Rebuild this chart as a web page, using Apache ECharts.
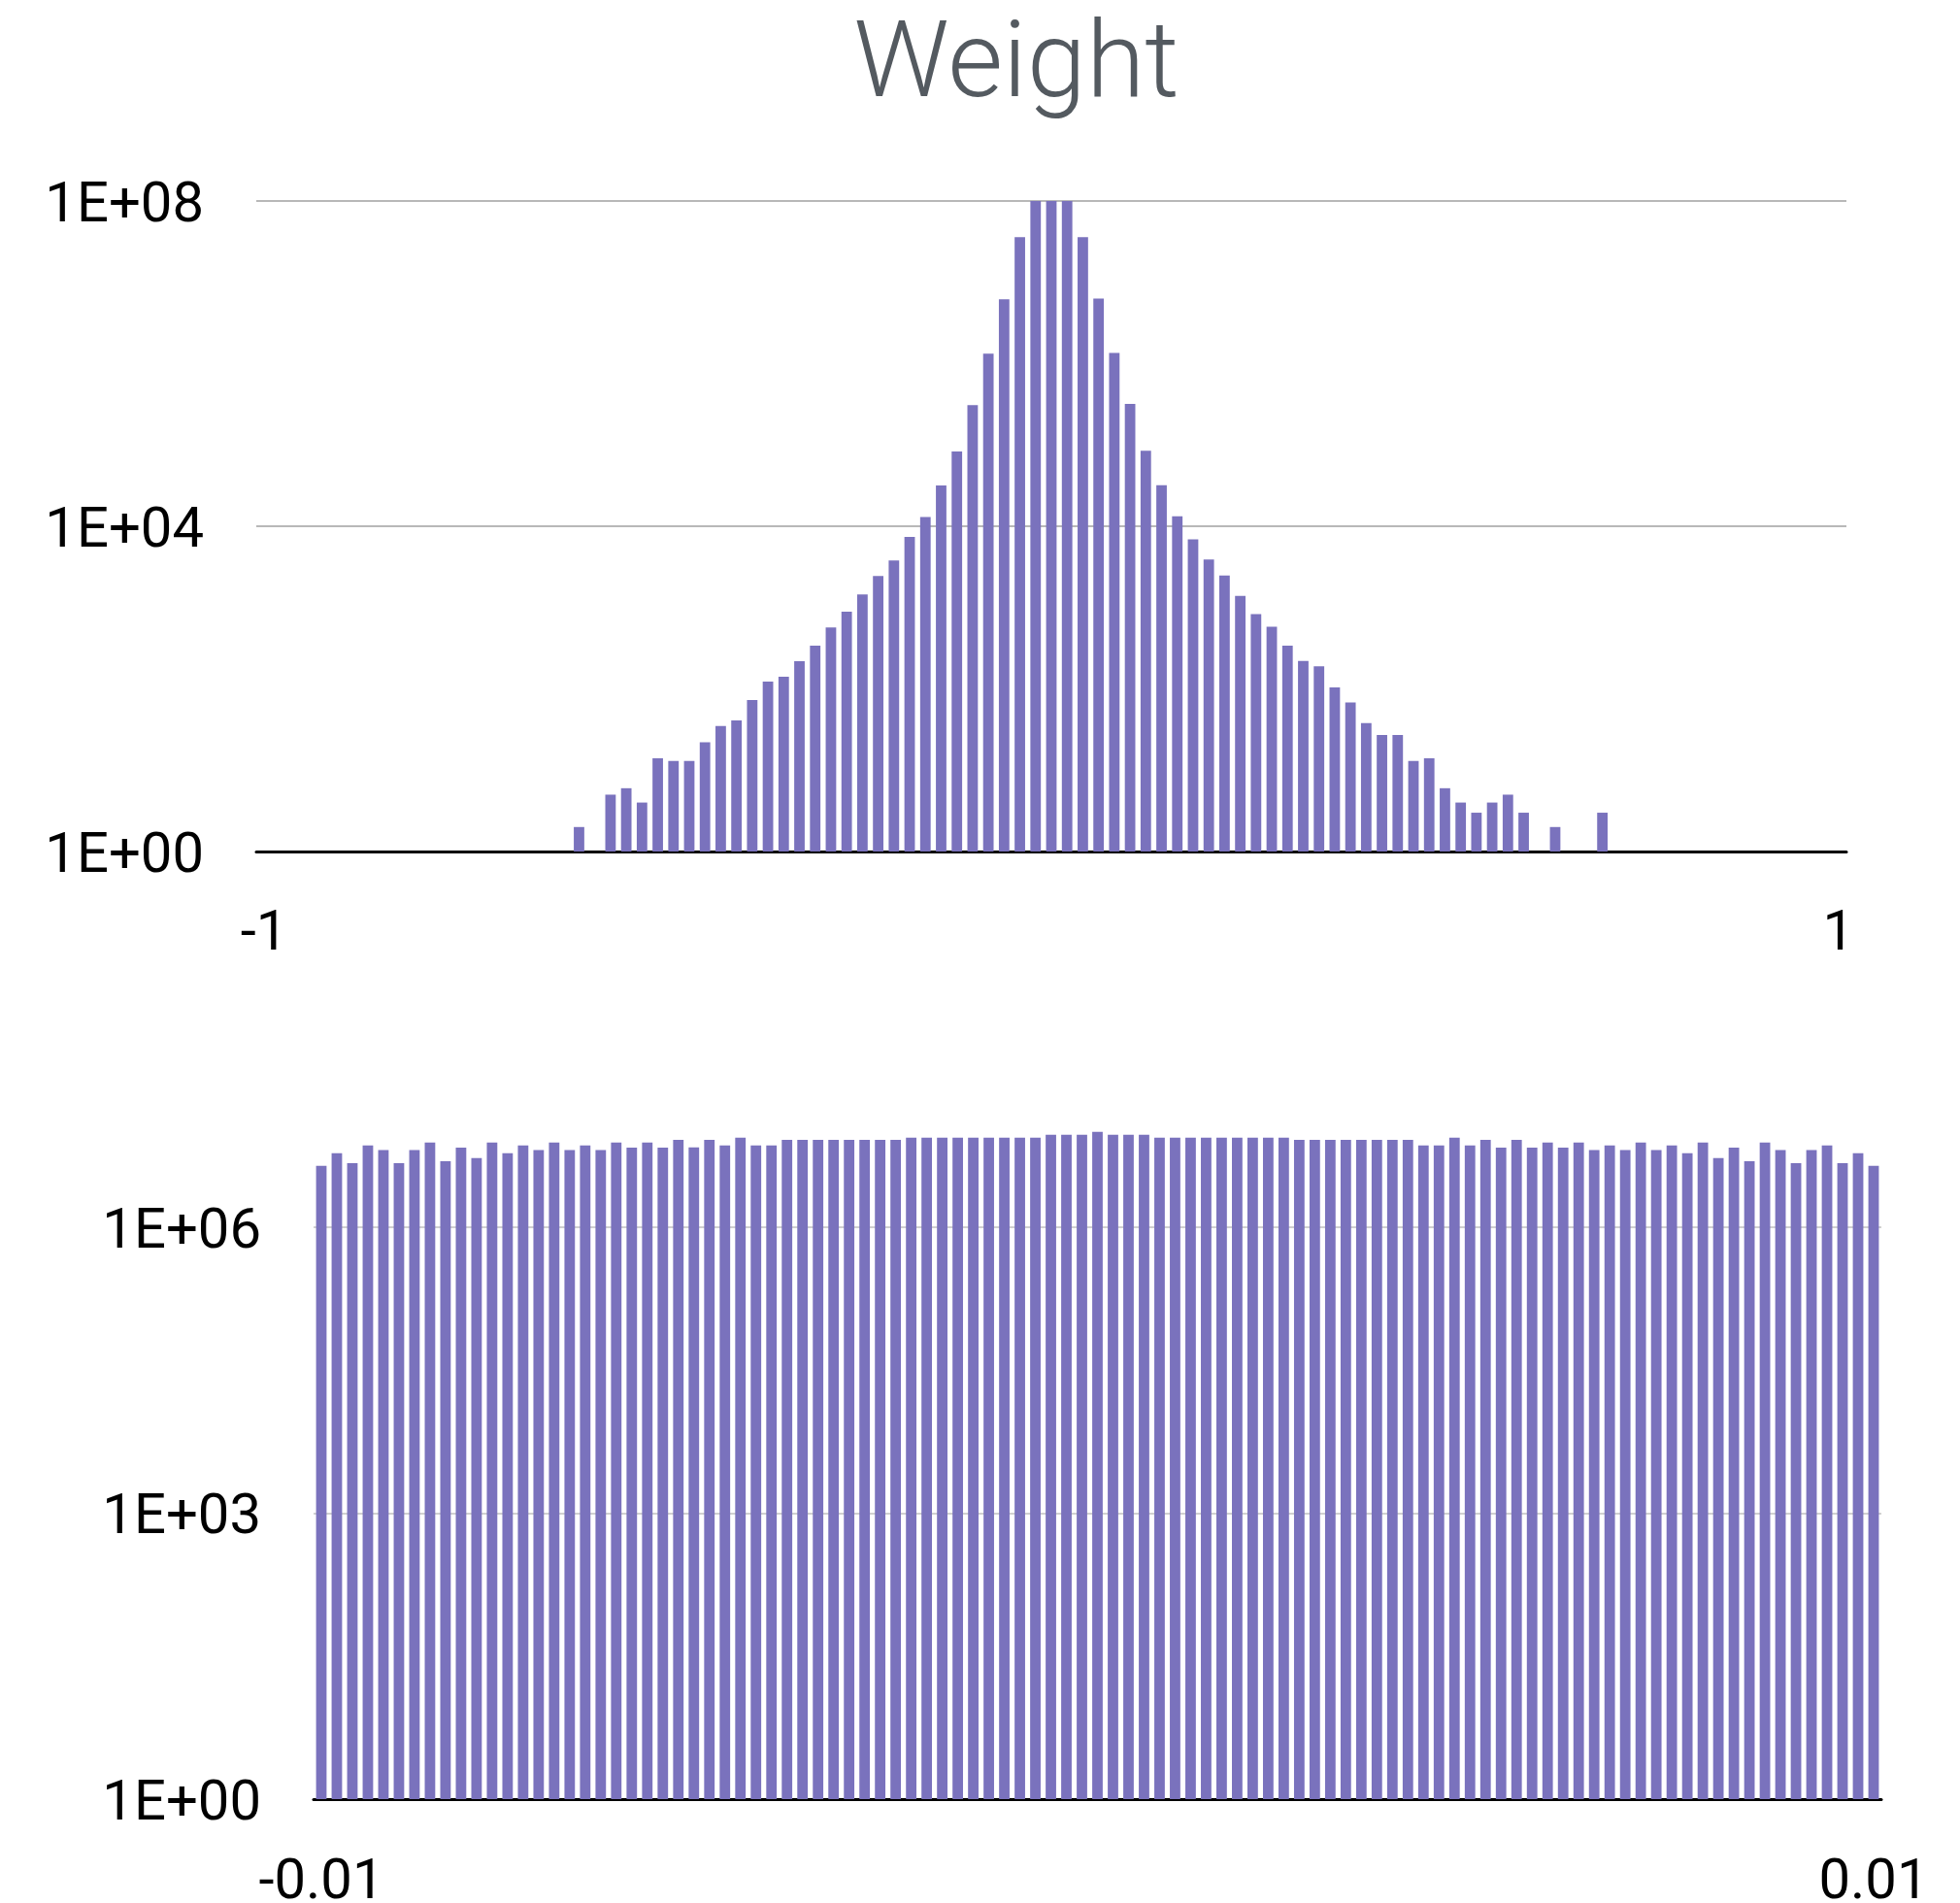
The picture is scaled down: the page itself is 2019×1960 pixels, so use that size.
<!DOCTYPE html>
<html><head><meta charset="utf-8">
<script src="https://cdn.jsdelivr.net/npm/echarts@6/dist/echarts.min.js"></script>
<style>html,body{margin:0;padding:0;background:#fff}#c{width:2019px;height:1960px}</style>
</head><body><div id="c"></div>
<script>
// ---------- data ----------
const titleText = 'Weight';

// top histogram: bins of width 0.02 centred on -1 .. 1 (only non-empty bins listed)
const topBinCenters = [
  -0.60, -0.56, -0.54, -0.52, -0.50, -0.48, -0.46, -0.44, -0.42, -0.40,
  -0.38, -0.36, -0.34, -0.32, -0.30, -0.28, -0.26, -0.24, -0.22, -0.20,
  -0.18, -0.16, -0.14, -0.12, -0.10, -0.08, -0.06, -0.04, -0.02, 0.00,
  0.02, 0.04, 0.06, 0.08, 0.10, 0.12, 0.14, 0.16, 0.18, 0.20,
  0.22, 0.24, 0.26, 0.28, 0.30, 0.32, 0.34, 0.36, 0.38, 0.40,
  0.42, 0.44, 0.46, 0.48, 0.50, 0.52, 0.54, 0.56, 0.58, 0.60,
  0.64, 0.70
];
const topCounts = [
  2, 5, 6, 4, 14, 13, 13, 22, 35, 41,
  73, 123, 141, 219, 339, 570, 890, 1450, 2450, 3800,
  7400, 13000, 31700, 83000, 309000, 1330000, 6200000, 36000000, 150000000, 200000000,
  150000000, 36000000, 6300000, 1350000, 320000, 85000, 32000, 13300, 6900, 3900,
  2470, 1390, 830, 580, 340, 220, 190, 104, 68, 38,
  27, 27, 13, 14, 6, 4, 3, 4, 5, 3,
  2, 3
];
const topXTicks = [-1, 1];

// bottom histogram: 101 bins of width 0.0002 centred on -0.01 .. 0.01
const bottomBinCenters = [
  -0.0100, -0.0098, -0.0096, -0.0094, -0.0092, -0.0090, -0.0088, -0.0086, -0.0084, -0.0082,
  -0.0080, -0.0078, -0.0076, -0.0074, -0.0072, -0.0070, -0.0068, -0.0066, -0.0064, -0.0062,
  -0.0060, -0.0058, -0.0056, -0.0054, -0.0052, -0.0050, -0.0048, -0.0046, -0.0044, -0.0042,
  -0.0040, -0.0038, -0.0036, -0.0034, -0.0032, -0.0030, -0.0028, -0.0026, -0.0024, -0.0022,
  -0.0020, -0.0018, -0.0016, -0.0014, -0.0012, -0.0010, -0.0008, -0.0006, -0.0004, -0.0002,
  0.0000,
  0.0002, 0.0004, 0.0006, 0.0008, 0.0010, 0.0012, 0.0014, 0.0016, 0.0018, 0.0020,
  0.0022, 0.0024, 0.0026, 0.0028, 0.0030, 0.0032, 0.0034, 0.0036, 0.0038, 0.0040,
  0.0042, 0.0044, 0.0046, 0.0048, 0.0050, 0.0052, 0.0054, 0.0056, 0.0058, 0.0060,
  0.0062, 0.0064, 0.0066, 0.0068, 0.0070, 0.0072, 0.0074, 0.0076, 0.0078, 0.0080,
  0.0082, 0.0084, 0.0086, 0.0088, 0.0090, 0.0092, 0.0094, 0.0096, 0.0098, 0.0100
];
const bottomCounts = [
  4370000, 5920000, 4660000, 7130000, 6380000, 4660000, 6380000, 7690000, 4890000, 6790000,
  5260000, 7690000, 5920000, 7130000, 6380000, 7690000, 6380000, 7130000, 6380000, 7690000,
  6790000, 7690000, 6790000, 8200000, 6810000, 8200000, 7130000, 8610000, 7130000, 7130000,
  8200000, 8200000, 8200000, 8200000, 8200000, 8200000, 8200000, 8200000, 8610000, 8610000,
  8610000, 8610000, 8610000, 8610000, 8610000, 8610000, 8610000, 9230000, 9230000, 9230000,
  9910000,
  9230000, 9230000, 9230000, 8610000, 8610000, 8610000, 8610000, 8610000, 8610000, 8610000,
  8610000, 8610000, 8200000, 8200000, 8200000, 8200000, 8200000, 8200000, 8200000, 8200000,
  7130000, 7130000, 8610000, 7130000, 8200000, 6790000, 8200000, 6790000, 7690000, 6790000,
  7690000, 6380000, 7130000, 6380000, 7690000, 6380000, 7130000, 5920000, 7690000, 5260000,
  6790000, 4890000, 7690000, 6380000, 4660000, 6380000, 7130000, 4660000, 5920000, 4370000
];
const bottomXTicks = [-0.01, 0.01];

// ---------- styling ----------
const FONT = 'Roboto';
const BAR_COLOR = '#7a72bd';
const sciLabel = v => '1E+' + String(Math.round(Math.log10(v))).padStart(2, '0');

const chart = echarts.init(document.getElementById('c'), null, {renderer: 'canvas'});

const yLabel = {
  fontFamily: FONT, fontSize: 58, color: '#000', margin: 54,
  verticalAlign: 'top', lineHeight: 13, formatter: sciLabel
};

const option = {
  animation: false,
  backgroundColor: '#ffffff',
  graphic: [{
    type: 'text', x: 1047, y: 71,
    style: {text: titleText, fontFamily: FONT, fontWeight: 300, fontSize: 110,
            fill: '#545a60', align: 'center', verticalAlign: 'middle'}
  }],
  grid: [
    {left: 264, top: 207, width: 1638, height: 670, containLabel: false, outerBoundsMode: 'none'},
    {left: 323, top: 969, width: 1615, height: 884, containLabel: false, outerBoundsMode: 'none'}
  ],
  xAxis: [
    {
      gridIndex: 0, type: 'value', min: -1.01, max: 1.01,
      axisLine: {show: true, onZero: false, lineStyle: {color: '#000', width: 3}},
      axisTick: {show: false}, splitLine: {show: false},
      axisLabel: {
        customValues: topXTicks, margin: 57, fontFamily: FONT, fontSize: 58, color: '#000',
        formatter: v => String(Math.round(v))
      }
    },
    {
      gridIndex: 1, type: 'value', min: -0.0101, max: 0.0101,
      axisLine: {show: true, onZero: false, lineStyle: {color: '#000', width: 3}},
      axisTick: {show: false}, splitLine: {show: false},
      axisLabel: {
        customValues: bottomXTicks, margin: 58, fontFamily: FONT, fontSize: 58, color: '#000',
        formatter: v => v.toFixed(2)
      }
    }
  ],
  yAxis: [
    {
      gridIndex: 0, type: 'log', logBase: 10000, min: 1, max: 1e8,
      axisLine: {show: false}, axisTick: {show: false},
      splitLine: {show: true, lineStyle: {color: '#b8b8b8', width: 2}},
      axisLabel: yLabel
    },
    {
      gridIndex: 1, type: 'log', logBase: 1000, min: 1, max: 1e9,
      axisLine: {show: false}, axisTick: {show: false},
      splitLine: {show: true, showMaxLine: false, lineStyle: {color: '#c0c0c0', width: 1.6}},
      axisLabel: Object.assign({}, yLabel, {showMaxLabel: false})
    }
  ],
  series: [
    {
      type: 'bar', xAxisIndex: 0, yAxisIndex: 0, clip: true,
      barWidth: 10.8, itemStyle: {color: BAR_COLOR},
      data: topBinCenters.map((x, i) => [x, topCounts[i]])
    },
    {
      type: 'bar', xAxisIndex: 1, yAxisIndex: 1, clip: true,
      barWidth: 10.8, itemStyle: {color: BAR_COLOR},
      data: bottomBinCenters.map((x, i) => [x, bottomCounts[i]])
    }
  ]
};
chart.setOption(option);
</script>
</body></html>
